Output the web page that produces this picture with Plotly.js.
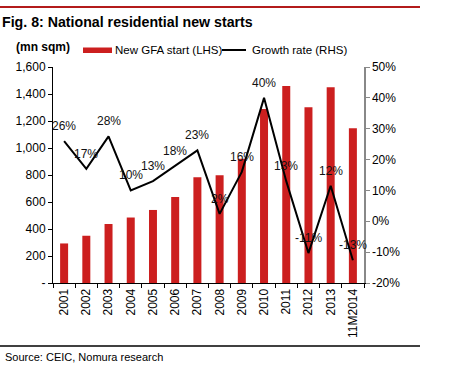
<!DOCTYPE html>
<html>
<head>
<meta charset="utf-8">
<script src="https://cdn.plot.ly/plotly-3.0.1.min.js"></script>
<style>html,body{margin:0;padding:0;background:#fff;}#chart{width:450px;height:372px;}</style>
</head>
<body>
<div id="chart"></div>
<script>
const categories = ["2001","2002","2003","2004","2005","2006","2007","2008","2009","2010","2011","2012","2013","11M2014"];
const newGfaStart = [293, 350, 437, 485, 541, 637, 783, 798, 921, 1289, 1459, 1301, 1450, 1146];
const growthRate = [26, 17, 27.5, 10, 13, 18, 23, 2.4, 16, 40, 13, -10.3, 11.5, -12.6];
const growthLabels = ["26%","17%","28%","10%","13%","18%","23%","2%","16%","40%","13%","-11%","12%","-13%"];
const leftTickVals = [0,200,400,600,800,1000,1200,1400,1600];
const leftTickText = ["-","200","400","600","800","1,000","1,200","1,400","1,600"];
const rightTickVals = [-20,-10,0,10,20,30,40,50];
const rightTickText = ["-20%","-10%","0%","10%","20%","30%","40%","50%"];

const FONT = "Liberation Sans, Arial, sans-serif";
const RED = "#cc1f1f";

const traces = [
  {type:"bar", x:categories, y:newGfaStart, name:"New GFA start (LHS)",
   marker:{color:RED}, width:0.36, yaxis:"y", hoverinfo:"skip"},
  {type:"scatter", mode:"lines", x:categories, y:growthRate, name:"Growth rate (RHS)",
   line:{color:"#000", width:2}, yaxis:"y2", hoverinfo:"skip"}
];

const annotations = categories.map((c,i)=>({
  x:i, y:growthRate[i], xref:"x", yref:"y2", text:growthLabels[i], showarrow:false,
  yshift:15, font:{family:FONT, size:12, color:"#111"}
}));

annotations.push(
  {xref:"paper", yref:"paper", x:-53/311, y:1+45/216, xanchor:"left", yanchor:"middle", align:"left",
   text:"<b>Fig. 8: National residential new starts</b>", showarrow:false,
   font:{family:FONT, size:14.2, color:"#000"}},
  {xref:"paper", yref:"paper", x:-39/311, y:1+20/216, xanchor:"left", yanchor:"middle",
   text:"<b>(mn sqm)</b>", showarrow:false, font:{family:FONT, size:12, color:"#000"}},
  {xref:"paper", yref:"paper", x:(113-53)/311, y:1+17/216, xanchor:"left", yanchor:"middle",
   text:"New GFA start (LHS)", showarrow:false, font:{family:FONT, size:11.5, color:"#000"}},
  {xref:"paper", yref:"paper", x:(250-53)/311, y:1+17/216, xanchor:"left", yanchor:"middle",
   text:"Growth rate (RHS)", showarrow:false, font:{family:FONT, size:11.5, color:"#000"}},
  {xref:"paper", yref:"paper", x:-50/311, y:-(357-283)/216, xanchor:"left", yanchor:"middle",
   text:"Source: CEIC, Nomura research", showarrow:false, font:{family:FONT, size:11, color:"#000"}}
);

const shapes = [
  {type:"line", xref:"paper", yref:"paper", x0:-53/311, x1:(420-53)/311, y0:1+(67-7)/216, y1:1+(67-7)/216,
   line:{color:"#b31b1b", width:2}},
  {type:"line", xref:"paper", yref:"paper", x0:-53/311, x1:(420-53)/311, y0:-(346-283)/216, y1:-(346-283)/216,
   line:{color:"#000", width:1.5}},
  {type:"rect", xref:"paper", yref:"paper", x0:(83-53)/311, x1:(112-53)/311, y0:1+(67-53)/216, y1:1+(67-47.5)/216,
   fillcolor:RED, line:{width:0}},
  {type:"line", xref:"paper", yref:"paper", x0:(222-53)/311, x1:(246-53)/311, y0:1+(67-50)/216, y1:1+(67-50)/216,
   line:{color:"#000", width:2}}
];

const layout = {
  width:450, height:372,
  margin:{l:53, r:86, t:67, b:89, pad:0},
  paper_bgcolor:"#fff", plot_bgcolor:"#fff",
  showlegend:false,
  font:{family:FONT, size:12, color:"#000"},
  xaxis:{type:"category", showgrid:false, zeroline:false, showline:true, linecolor:"#000", linewidth:1,
    ticks:"outside", tickson:"boundaries", ticklen:4, tickcolor:"#000", tickangle:-90,
    tickfont:{family:FONT, size:12, color:"#000"}, range:[-0.5,13.5]},
  yaxis:{range:[0,1600], tickvals:leftTickVals, ticktext:leftTickText, showgrid:false, zeroline:false,
    showline:true, linecolor:"#000", linewidth:1, ticks:"outside", ticklen:4, tickcolor:"#000",
    tickfont:{family:FONT, size:12, color:"#000"}},
  yaxis2:{range:[-20,50], tickvals:rightTickVals, ticktext:rightTickText, overlaying:"y", side:"right",
    showgrid:false, zeroline:false, showline:true, linecolor:"#888", linewidth:1.5, ticks:"outside",
    ticklen:4, tickcolor:"#888", tickfont:{family:FONT, size:12, color:"#000"}},
  annotations:annotations,
  shapes:shapes
};

Plotly.newPlot("chart", traces, layout, {staticPlot:true, displayModeBar:false});
</script>
</body>
</html>
